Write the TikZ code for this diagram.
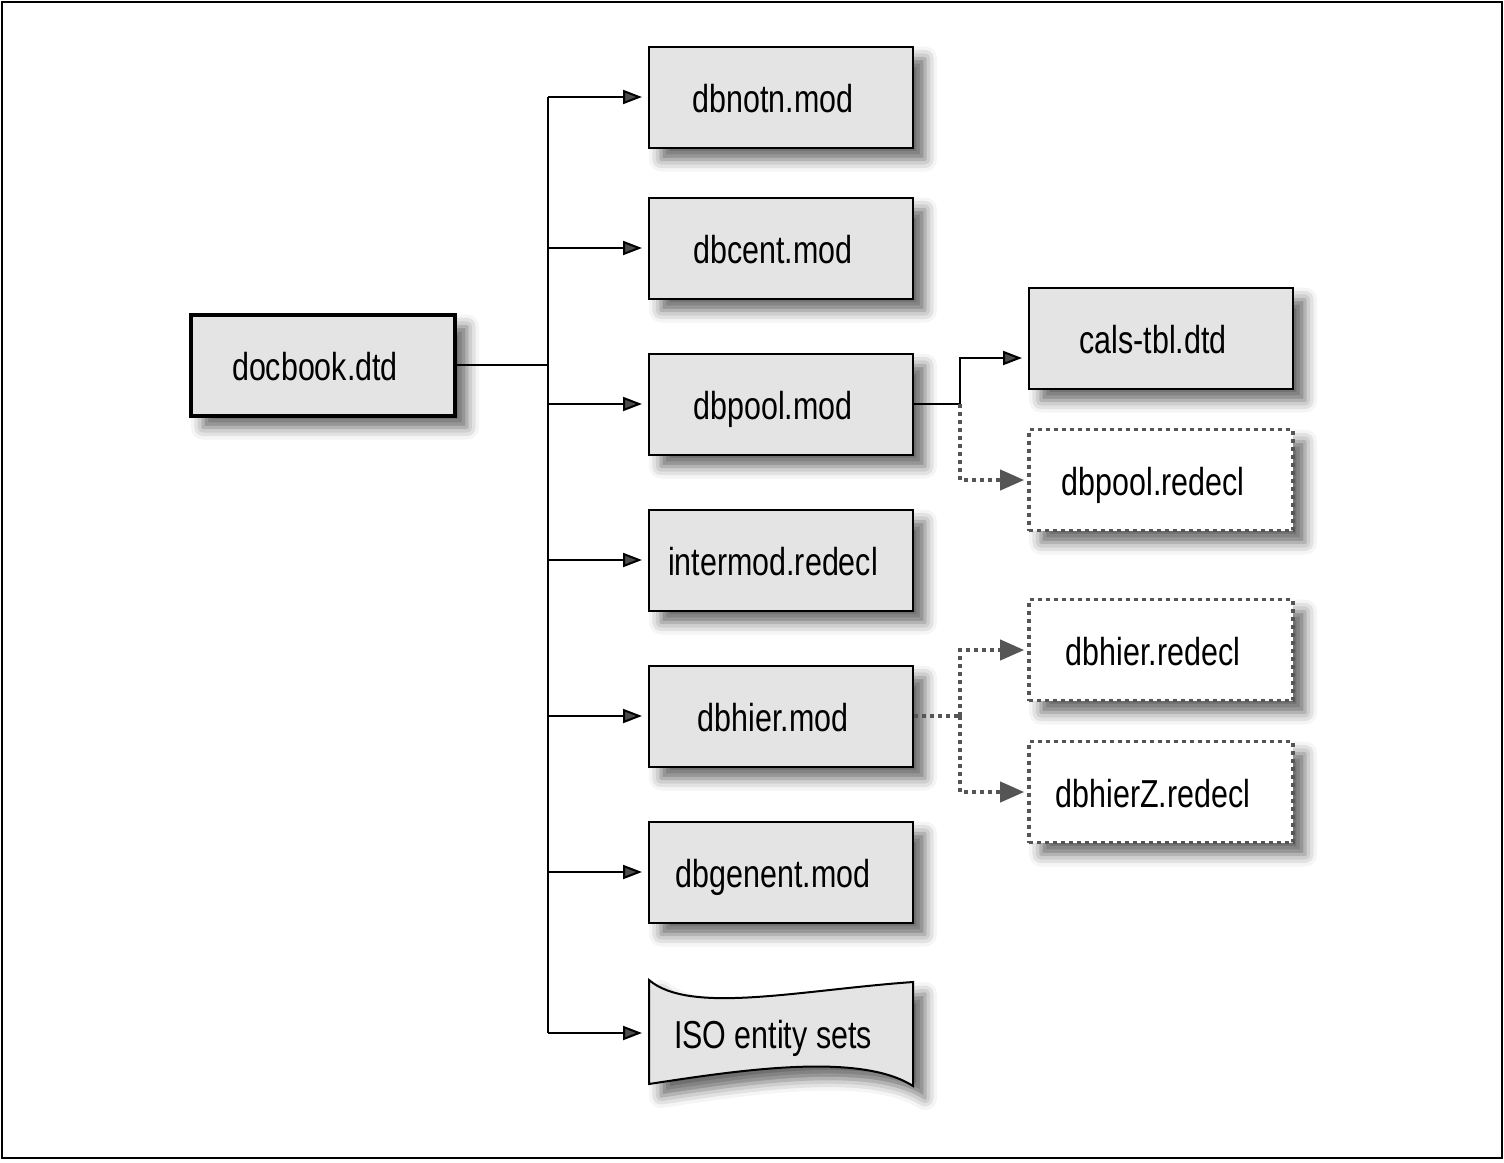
\documentclass[tikz,border=0pt]{standalone}
\usepackage{fontspec}
\setmainfont{Liberation Sans}[FakeStretch=0.78]
\usetikzlibrary{arrows.meta,shadows.blur}

\definecolor{boxgray}{HTML}{E4E4E4}
\definecolor{dotgray}{HTML}{555555}

\tikzset{
    shadowed/.style={blur shadow={shadow xshift=6pt, shadow yshift=-6pt, shadow blur radius=6pt, shadow opacity=60}},
    modbox/.style={draw, line width=1pt, fill=boxgray, minimum width=132pt, minimum height=50.5pt,
        text height=15pt, text depth=0pt, font=\fontsize{19.5pt}{23pt}\selectfont, shadowed,
        execute at begin node={\kern-8pt}},
    rootbox/.style={modbox, line width=2pt},
    redeclbox/.style={modbox, draw=dotgray, fill=white, line width=1.8pt, dash pattern=on 2pt off 2pt},
    link/.style={line width=1pt, -{Triangle[length=9.5pt,width=7pt]}, shorten >=3pt},
    dotline/.style={draw=dotgray, line width=2pt, dash pattern=on 2pt off 2pt},
    optlink/.style={dotline, -{Triangle[length=12pt,width=10pt,fill=dotgray]}, shorten >=1.5pt},
}

\begin{document}
\begin{tikzpicture}[x=0.5pt, y=-0.5pt]
    \useasboundingbox (0,0) rectangle (1504,1162);
    \draw[line width=1pt] (2,2) rectangle (1502,1158);

    % root and main modules
    \node[rootbox] (docbook) at (323,365) {docbook.dtd};
    \foreach \name/\txt/\y in {notn/dbnotn.mod/97, cent/dbcent.mod/248, pool/dbpool.mod/404,
        intermod/intermod.redecl/560, hier/dbhier.mod/716, genent/dbgenent.mod/872} {
        \node[modbox] (\name) at (781,\y) {\txt};
    }

    % entity sets banner
    \filldraw[line width=1pt, fill=boxgray, shadowed]
        (649,980) .. controls (690,1015) and (800,990) .. (913,982)
        -- (913,1086) .. controls (860,1052) and (740,1070) .. (649,1084) -- cycle;
    \node[modbox, draw=none, fill=none, blur shadow={shadow opacity=0}] (iso) at (781,1033) {ISO entity sets};

    % redeclaration files
    \node[modbox] (cals) at (1161,338) {cals-tbl.dtd};
    \node[redeclbox] (poolredecl) at (1161,480) {dbpool.redecl};
    \node[redeclbox] (hierredecl) at (1161,650) {dbhier.redecl};
    \node[redeclbox] (hierZredecl) at (1161,792) {dbhierZ.redecl};

    % trunk
    \coordinate (trunk) at (548,365);
    \draw[line width=1pt] (docbook.east) -- (trunk);
    \draw[line width=1pt] (trunk |- notn.west) -- (trunk |- iso.west);
    \foreach \name in {notn,cent,pool,intermod,hier,genent,iso} {
        \draw[link] (trunk |- \name.west) -- (\name.west);
    }

    % branches
    \coordinate (poolfork) at (960,404);
    \coordinate (hierfork) at (960,716);
    \draw[line width=1pt] (pool.east) -- (poolfork);
    \draw[link] (poolfork) |- ([yshift=-10pt]cals.west);
    \draw[optlink] (poolfork) |- (poolredecl.west);
    \draw[dotline] (hier.east) -- (hierfork);
    \draw[optlink] (hierfork) |- (hierredecl.west);
    \draw[optlink] (hierfork) |- (hierZredecl.west);
\end{tikzpicture}
\end{document}
